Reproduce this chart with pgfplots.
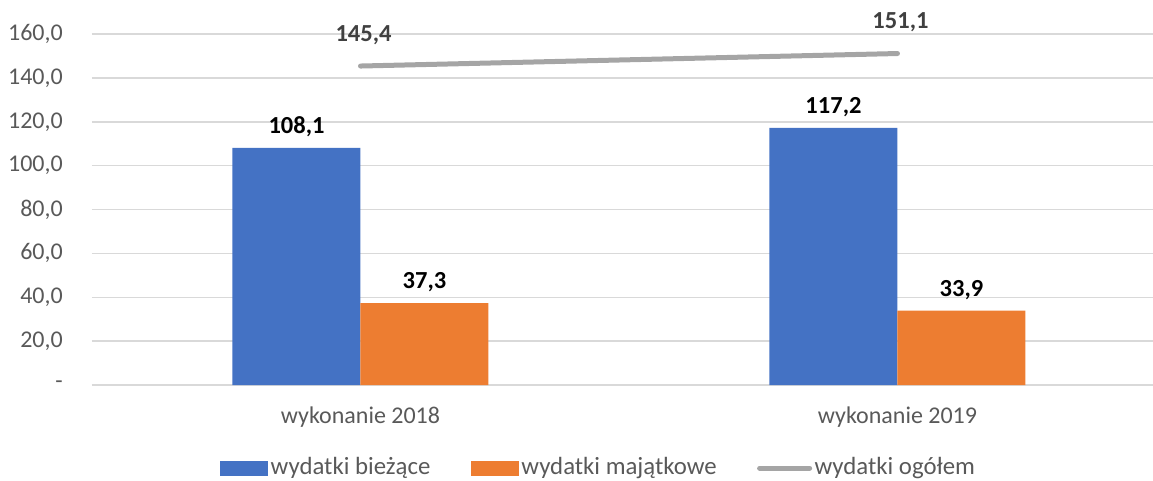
\documentclass[border=0pt]{standalone}
\usepackage{pgfplots}
\pgfplotsset{compat=1.18}
\usepackage{fontspec}
\setmainfont{Carlito}
\definecolor{cblue}{HTML}{4472C4}
\definecolor{corange}{HTML}{ED7D31}
\definecolor{cgray}{HTML}{A5A5A5}
\definecolor{gridgray}{HTML}{D9D9D9}
\definecolor{tgray}{HTML}{595959}
\definecolor{dgray}{HTML}{404040}
\begin{document}
\fontsize{24}{28}\selectfont
\begin{tikzpicture}
\useasboundingbox (0,0) rectangle (1153pt,480pt);
\begin{axis}[
  at={(92pt,95pt)}, anchor=south west,
  scale only axis, width=1074pt, height=351pt,
  xmin=-0.5, xmax=1.5, ymin=0, ymax=160,
  xtick={0,1}, xticklabels={wykonanie 2018, wykonanie 2019},
  ytick={0,20,...,160},
  ymajorgrids, grid style={color=gridgray, line width=1.5pt},
  axis line style={draw=none}, tick style={draw=none},
  major tick length=0pt,
  /pgf/number format/use comma,
  /pgf/number format/fixed,
  /pgf/number format/fixed zerofill,
  /pgf/number format/precision=1,
  /pgf/number format/assume math mode=true,
  yticklabel={\ifdim\tick pt<1pt -\hspace{13pt}\else\pgfmathprintnumber{\tick}\fi},
  yticklabel style={text=tgray, inner sep=0pt, anchor=east, xshift=-29pt},
  xticklabel style={text=tgray, inner sep=0pt, anchor=north, yshift=-22pt},
  legend style={at={(axis description cs:0.1192,-0.2365)}, anchor=west,
    draw=none, fill=none, inner sep=0pt, legend columns=3,
    font=\fontsize{24.8}{28}\selectfont,
    /tikz/every even column/.append style={column sep=38pt},
    nodes={inner sep=2.5pt, text=tgray}},
  clip=false,
]
\addplot[ybar, bar width=128pt, bar shift=-64pt, fill=cblue, draw=none,
  nodes near coords,
  nodes near coords style={font=\bfseries\fontsize{24.5}{28}\selectfont, text=black, inner sep=0pt, anchor=south, yshift=11pt, xshift=-64pt},
  legend image code/.code={\fill[cblue] (0pt,-7.5pt) rectangle (48pt,7.5pt);}]
  coordinates {(0,108.1) (1,117.2)};
\addlegendentry{wydatki bieżące}
\addplot[ybar, bar width=128pt, bar shift=64pt, fill=corange, draw=none,
  nodes near coords,
  nodes near coords style={font=\bfseries\fontsize{24.5}{28}\selectfont, text=black, inner sep=0pt, anchor=south, yshift=11pt, xshift=64pt},
  legend image code/.code={\fill[corange] (0pt,-7.5pt) rectangle (48pt,7.5pt);}]
  coordinates {(0,37.3) (1,33.9)};
\addlegendentry{wydatki majątkowe}
\addplot[color=cgray, line width=5pt, line cap=round, mark=none,
  nodes near coords,
  nodes near coords style={font=\bfseries\fontsize{24.5}{28}\selectfont, text=dgray, inner sep=0pt, anchor=south, yshift=19pt, xshift=3pt},
  legend image code/.code={\draw[cgray, line width=5pt, line cap=round] (2.5pt,0pt) -- (52.5pt,0pt);}]
  coordinates {(0,145.4) (1,151.1)};
\addlegendentry{wydatki ogółem}
\end{axis}
\end{tikzpicture}
\end{document}
